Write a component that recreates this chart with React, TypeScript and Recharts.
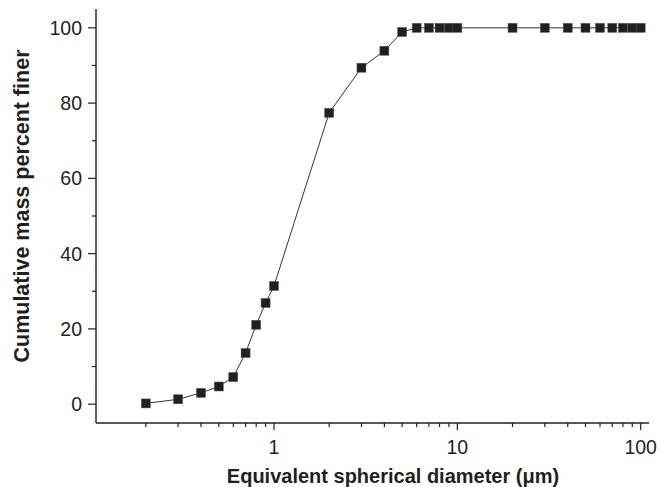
import React from 'react';
import { LineChart, Line, XAxis, YAxis } from 'recharts';

const diameters = [0.2, 0.3, 0.4, 0.5, 0.6, 0.7, 0.8, 0.9, 1, 2, 3, 4, 5, 6, 7, 8, 9, 10, 20, 30, 40, 50, 60, 70, 80, 90, 100];
const percentFiner = [0.2, 1.3, 3.0, 4.7, 7.2, 13.6, 21.1, 26.9, 31.4, 77.4, 89.4, 93.9, 98.9, 100, 100, 100, 100, 100, 100, 100, 100, 100, 100, 100, 100, 100, 100];

const xTicks = [0.2, 0.3, 0.4, 0.5, 0.6, 0.7, 0.8, 0.9, 1, 2, 3, 4, 5, 6, 7, 8, 9, 10, 20, 30, 40, 50, 60, 70, 80, 90, 100];
const xMajor = [1, 10, 100];
const yTicks = [0, 10, 20, 30, 40, 50, 60, 70, 80, 90, 100];
const yMajor = [0, 20, 40, 60, 80, 100];

const data = diameters.map((d, i) => ({ d, p: percentFiner[i] }));

const INK = '#231f20';
const FONT = '"Liberation Sans", Arial, sans-serif';

const XTick = (props: any) => {
  const { x, y, payload } = props;
  const major = xMajor.includes(payload.value);
  return (
    <g>
      <line x1={x} y1={y} x2={x} y2={y + (major ? 7 : 4)} stroke={INK} strokeWidth={1.2} />
      {major && (
        <text x={x} y={y + 31} textAnchor="middle" fontSize={19.5} fill={INK} fontFamily={FONT}>
          {payload.value}
        </text>
      )}
    </g>
  );
};

const YTick = (props: any) => {
  const { x, y, payload } = props;
  const major = yMajor.includes(payload.value);
  return (
    <g>
      <line x1={x - (major ? 8 : 4)} y1={y} x2={x} y2={y} stroke={INK} strokeWidth={1.2} />
      {major && (
        <text x={x - 14} y={y + 7} textAnchor="end" fontSize={19.5} fill={INK} fontFamily={FONT}>
          {payload.value}
        </text>
      )}
    </g>
  );
};

const SquareDot = (props: any) => {
  const { cx, cy, index } = props;
  if (cx == null || cy == null) return <g key={index} />;
  return <rect key={index} x={cx - 4.5} y={cy - 4.5} width={9} height={9} fill={INK} stroke="#555" strokeWidth={0.5} />;
};

export default function App() {
  return (
    <div style={{ position: 'absolute', left: 0, top: 0, width: 661, height: 487, background: '#fff' }}>
      <LineChart width={661} height={487} data={data} margin={{ top: 9, right: 12, bottom: 0, left: 0 }}>
        <XAxis
          dataKey="d"
          type="number"
          scale="log"
          domain={[0.107, 111]}
          ticks={xTicks}
          interval={0}
          allowDataOverflow
          height={64}
          tickSize={0}
          tickMargin={0}
          tickLine={false}
          axisLine={{ stroke: INK, strokeWidth: 1.4 }}
          tick={XTick}
          label={{
            content: () => (
              <text x={393} y={483} textAnchor="middle" fontSize={20} fontWeight="bold" fill={INK} fontFamily={FONT}>
                Equivalent spherical diameter (μm)
              </text>
            ),
          }}
        />
        <YAxis
          type="number"
          domain={[-5, 105]}
          ticks={yTicks}
          interval={0}
          allowDataOverflow
          width={96}
          tickSize={0}
          tickMargin={0}
          tickLine={false}
          axisLine={{ stroke: INK, strokeWidth: 1.4 }}
          tick={YTick}
          label={{
            content: () => (
              <text
                x={29}
                y={206}
                textAnchor="middle"
                fontSize={21.5}
                fontWeight="bold"
                fill={INK}
                fontFamily={FONT}
                transform="rotate(-90 29 206)"
              >
                Cumulative mass percent finer
              </text>
            ),
          }}
        />
        <Line
          dataKey="p"
          stroke="#333"
          strokeWidth={1}
          dot={SquareDot}
          activeDot={false}
          isAnimationActive={false}
        />
      </LineChart>
    </div>
  );
}
